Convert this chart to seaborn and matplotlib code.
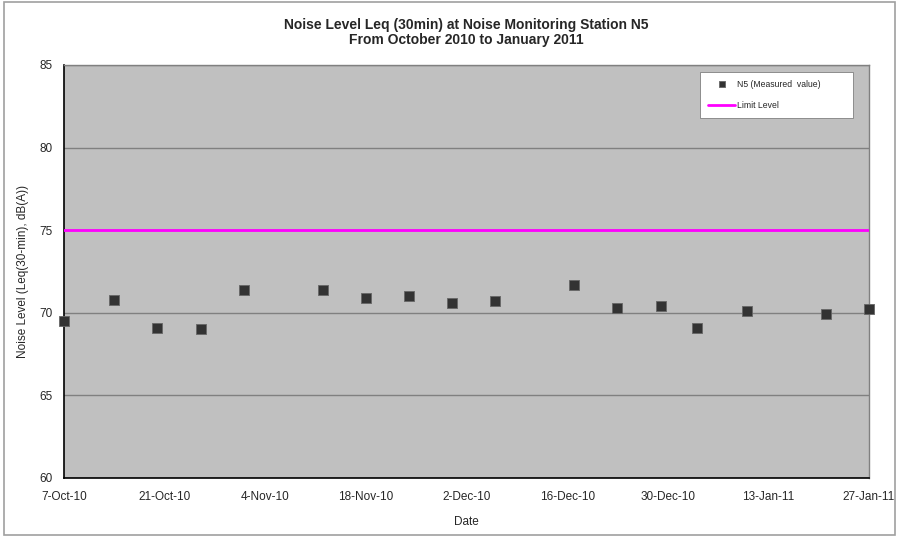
import numpy as np
import pandas as pd
import seaborn as sns
import matplotlib
matplotlib.use("Agg")
import matplotlib.pyplot as plt
import matplotlib.dates as mdates
from matplotlib.ticker import FuncFormatter
from matplotlib.patches import Rectangle

# measured Leq(30min) values at N5
dates = ["2010-10-07", "2010-10-14", "2010-10-20", "2010-10-26", "2010-11-01",
         "2010-11-12", "2010-11-18", "2010-11-24", "2010-11-30", "2010-12-06",
         "2010-12-17", "2010-12-23", "2010-12-29", "2011-01-03", "2011-01-10",
         "2011-01-21", "2011-01-27"]
leq = [69.5, 70.8, 69.1, 69.0, 71.4,
       71.4, 70.9, 71.0, 70.6, 70.7,
       71.7, 70.3, 70.4, 69.1, 70.1,
       69.9, 70.2]
limit_level = 75
x_start, x_end = "2010-10-07", "2011-01-27"

df = pd.DataFrame({"Date": pd.to_datetime(dates), "Leq": leq})

sns.set_style("white")
plt.rcParams["font.family"] = ["Liberation Sans", "DejaVu Sans"]

fig = plt.figure(figsize=(9, 5.37), dpi=100)
ax = fig.add_axes([64/900, 1-478/537, (869-64)/900, (478-65)/537])
ax.set_facecolor("#c0c0c0")

# outer chart border
fig.patches.append(Rectangle((4/900, 2/537), 891/900, 533/537, transform=fig.transFigure,
                             fill=False, edgecolor="#a0a0a0", linewidth=1.2))

sns.scatterplot(data=df, x="Date", y="Leq", marker="s", s=42, color="#333333",
                edgecolor="#666666", linewidth=0.6, ax=ax, zorder=5, clip_on=False,
                label="N5 (Measured  value)")
ax.axhline(limit_level, color="#ff00ff", linewidth=2, zorder=4, label="Limit Level")

ax.set_ylim(60, 85)
ax.set_yticks(range(60, 86, 5))
ax.set_xlim(pd.Timestamp(x_start), pd.Timestamp(x_end))
ax.set_xticks(pd.date_range(x_start, x_end, freq="14D"))
ax.xaxis.set_major_formatter(FuncFormatter(
    lambda v, p: f"{mdates.num2date(v).day}-{mdates.num2date(v).strftime('%b-%y')}"))

ax.grid(axis="y", color="#808080", linewidth=1)
ax.set_axisbelow(True)
for s in ["left", "bottom"]:
    ax.spines[s].set_color("black")
    ax.spines[s].set_linewidth(1.2)
for s in ["top", "right"]:
    ax.spines[s].set_color("#808080")
    ax.spines[s].set_linewidth(1)

ax.tick_params(axis="y", direction="out", length=4, width=0.8, color="#808080",
               labelsize=8.5, pad=4)
ax.tick_params(axis="x", direction="in", length=4, width=0.8, color="#808080",
               labelsize=8.5, pad=9)

ax.set_xlabel("Date", fontsize=8.5, labelpad=10)
ax.set_ylabel("Noise Level (Leq(30-min), dB(A))", fontsize=8.5, labelpad=8)
ax.set_title("Noise Level Leq (30min) at Noise Monitoring Station N5\nFrom October 2010 to January 2011",
             fontsize=10, fontweight="bold", pad=15, linespacing=1.15)

leg = ax.legend(loc="upper left", bbox_to_anchor=(700/900, 1-116/537, 153/900, 44/537),
                bbox_transform=fig.transFigure, mode="expand", borderaxespad=0,
                fancybox=False, frameon=True, fontsize=6.2, labelspacing=1.4,
                handlelength=3.2, borderpad=0.9, handletextpad=0.2, markerscale=0.6)
leg.get_frame().set_edgecolor("#808080")
leg.get_frame().set_linewidth(0.6)
leg.get_frame().set_facecolor("white")
leg.get_frame().set_alpha(1)

fig.savefig("out.png", dpi=100, facecolor="white")
